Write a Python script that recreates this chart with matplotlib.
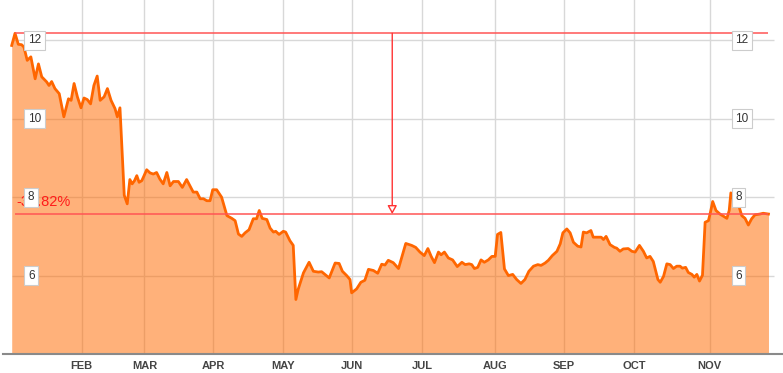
import matplotlib
matplotlib.use("Agg")
import matplotlib.pyplot as plt

# trading-day index and closing price
days = [0, 1.0, 2.0, 3.0, 3.7, 4.7, 5.8, 7.1, 8.1, 9.1, 10.6, 11.3, 12.1, 13.1, 14.4,
        15.8, 17.2, 18.0, 18.9, 19.9, 21.0, 21.9, 22.9, 23.9, 24.9, 25.9, 26.8, 28.0,
        29.0, 30.1, 31.3, 32.0, 32.8, 34.1, 35.0, 35.8, 36.5, 37.2, 37.9, 38.6, 39.4,
        39.9, 40.9, 41.9, 42.9, 43.9, 44.9, 45.9, 47.0, 48.0, 49.0, 50.5, 51.7, 53.0,
        54.0, 55.0, 56.1, 57.1, 58.1, 59.1, 60.1, 60.9, 62.1, 63.6, 65.2, 66.7, 67.7,
        68.7, 69.7, 70.7, 71.9, 73.2, 74.2, 75.0, 75.9, 77.3, 78.3, 79.3, 80.0, 81.0,
        82.3, 83.0, 84.3, 85.3, 86.1, 86.8, 88.4, 90.1, 91.4, 92.9, 93.9, 94.9, 96.2,
        98.0, 99.2, 100.2, 101.5, 102.5, 103.0, 104.5, 105.8, 107.0, 108.1, 109.6,
        110.9, 112.1, 113.1, 114.1, 115.6, 117.2, 119.4, 121.2, 122.4, 123.7, 125.0,
        126.1, 127.1, 128.1, 129.3, 130.1, 131.1, 132.3, 133.6, 135.0, 136.4, 137.4,
        138.6, 139.4, 140.2, 141.2, 142.2, 143.2, 144.4, 145.5, 146.5, 147.2, 148.2,
        149.3, 150.5, 151.8, 153.0, 154.3, 155.5, 156.7, 158.1, 159.4, 160.4, 161.6,
        162.6, 163.8, 165.2, 166.2, 167.0, 168.2, 169.2, 170.2, 171.5, 172.5, 173.2,
        174.2, 175.5, 176.2, 177.6, 178.6, 179.3, 180.1, 181.3, 182.6, 183.3, 184.3,
        185.3, 186.8, 187.9, 188.9, 190.2, 191.4, 192.4, 193.4, 194.4, 195.8, 196.5,
        197.5, 198.5, 199.5, 200.5, 201.5, 202.5, 203.2, 204.2, 205.0, 206.1, 206.8,
        207.6, 208.4, 209.3, 210.1, 211.1, 211.6, 212.4, 213.4, 214.6, 215.9, 216.7,
        217.4, 217.9, 219.2, 220.2, 221.2, 222.2, 223.2, 224.2, 225.2, 226.7, 227.7,
        229.3]
price = [11.87, 12.18, 11.90, 11.89, 11.83, 11.49, 11.58, 11.02, 11.40, 11.07, 10.94,
         10.85, 10.95, 10.77, 10.64, 10.05, 10.51, 10.47, 10.90, 10.56, 10.28, 10.53,
         10.49, 10.38, 10.85, 11.09, 10.47, 10.56, 10.77, 10.47, 10.26, 10.05, 10.28,
         8.05, 7.83, 8.45, 8.34, 8.42, 8.55, 8.38, 8.42, 8.51, 8.70, 8.62, 8.59, 8.63,
         8.46, 8.34, 8.63, 8.29, 8.40, 8.40, 8.25, 8.45, 8.29, 8.13, 8.13, 7.96, 7.96,
         7.91, 7.91, 8.19, 8.19, 8.00, 7.53, 7.46, 7.40, 7.06, 7.00, 7.09, 7.17, 7.45,
         7.45, 7.66, 7.46, 7.43, 7.21, 7.11, 7.13, 7.05, 7.13, 7.11, 6.89, 6.77, 5.39,
         5.65, 6.07, 6.34, 6.11, 6.09, 6.10, 6.03, 5.94, 6.32, 6.31, 6.11, 6.00, 5.90,
         5.56, 5.66, 5.83, 5.88, 6.16, 6.13, 6.06, 6.29, 6.27, 6.39, 6.33, 6.18, 6.82,
         6.77, 6.72, 6.60, 6.51, 6.69, 6.49, 6.33, 6.60, 6.53, 6.60, 6.45, 6.40, 6.23,
         6.34, 6.28, 6.30, 6.28, 6.18, 6.21, 6.40, 6.34, 6.40, 6.49, 6.49, 7.05, 7.10,
         6.17, 6.00, 6.03, 5.90, 5.80, 5.90, 6.11, 6.24, 6.28, 6.26, 6.32, 6.39, 6.51,
         6.62, 6.81, 7.09, 7.19, 7.09, 6.85, 6.75, 6.73, 7.11, 7.09, 7.15, 6.98, 6.98,
         6.98, 6.92, 7.00, 6.79, 6.72, 6.70, 6.62, 6.68, 6.69, 6.62, 6.60, 6.77, 6.62,
         6.45, 6.49, 6.36, 5.90, 5.83, 5.98, 6.30, 6.28, 6.18, 6.24, 6.24, 6.19, 6.21,
         6.08, 6.03, 5.96, 6.03, 5.86, 6.01, 7.36, 7.40, 7.57, 7.89, 7.66, 7.57, 7.50,
         7.46, 7.66, 8.11, 7.83, 7.81, 7.53, 7.46, 7.29, 7.45, 7.55, 7.57, 7.59, 7.57]

month_pos = [21.2, 40.2, 61.1, 82.3, 103.1, 124.4, 146.5, 167.3, 188.5, 211.5]
month_labels = ["FEB", "MAR", "APR", "MAY", "JUN", "JUL", "AUG", "SEP", "OCT", "NOV"]
y_ticks = [6, 8, 10, 12]
change_label = "-37.82%"

plt.rcParams["font.family"] = ["Liberation Sans", "DejaVu Sans"]

fig = plt.figure(figsize=(7.83, 3.73), dpi=100)
ax = fig.add_axes([3 / 783, 19 / 373, 780 / 783, 354 / 373])
ax.set_xlim(-2.64, 233.7)
ax.set_ylim(4, 13.03)

# grid
for m in month_pos:
    ax.axvline(m, color="#d8d8d8", lw=1, zorder=1)
ax.hlines(y_ticks, 0, 231, color="#d8d8d8", lw=1, zorder=1)

ax.fill_between(days, price, 4, color="#ff6a00", alpha=0.52, lw=0, zorder=2)
ax.plot(days, price, color="#ff6600", lw=2, zorder=3, solid_joinstyle="round")

# high / last markers
hi_i = price.index(max(price))
hi, last = price[hi_i], price[-1]
ax.hlines([hi, last], days[hi_i], days[-1], color="#ff5555", lw=1.3, alpha=0.85, zorder=4)
mid = days[hi_i] + 114.3
ax.annotate("", xy=(mid, last), xytext=(mid, hi),
            arrowprops=dict(arrowstyle="-|>,head_width=0.28,head_length=0.5",
                            fc="white", ec="#ff3333", lw=1, shrinkA=0, shrinkB=0),
            zorder=5)
ax.text(days[hi_i] + 0.5, last + 0.13, change_label, color="#ff1a1a",
        fontsize=10.5, ha="left", va="bottom", zorder=5)

box = dict(boxstyle="square,pad=0.3", fc="white", ec="#cccccc", lw=0.8)
for v in y_ticks:
    ax.text(4.9, v, str(v), fontsize=8.5, color="#333333", ha="left", va="center",
            bbox=box, zorder=6)
    ax.text(219.2, v, str(v), fontsize=8.5, color="#333333", ha="left", va="center",
            bbox=box, zorder=6)

ax.set_xticks(month_pos)
ax.set_xticklabels(month_labels, fontsize=8, fontweight="bold", color="#444444")
ax.tick_params(axis="x", length=0, pad=5)
ax.set_yticks([])
for s in ("top", "left", "right"):
    ax.spines[s].set_visible(False)
ax.spines["bottom"].set_color("#8a8a8a")
ax.spines["bottom"].set_linewidth(1.5)

fig.savefig("out.png", dpi=100)
